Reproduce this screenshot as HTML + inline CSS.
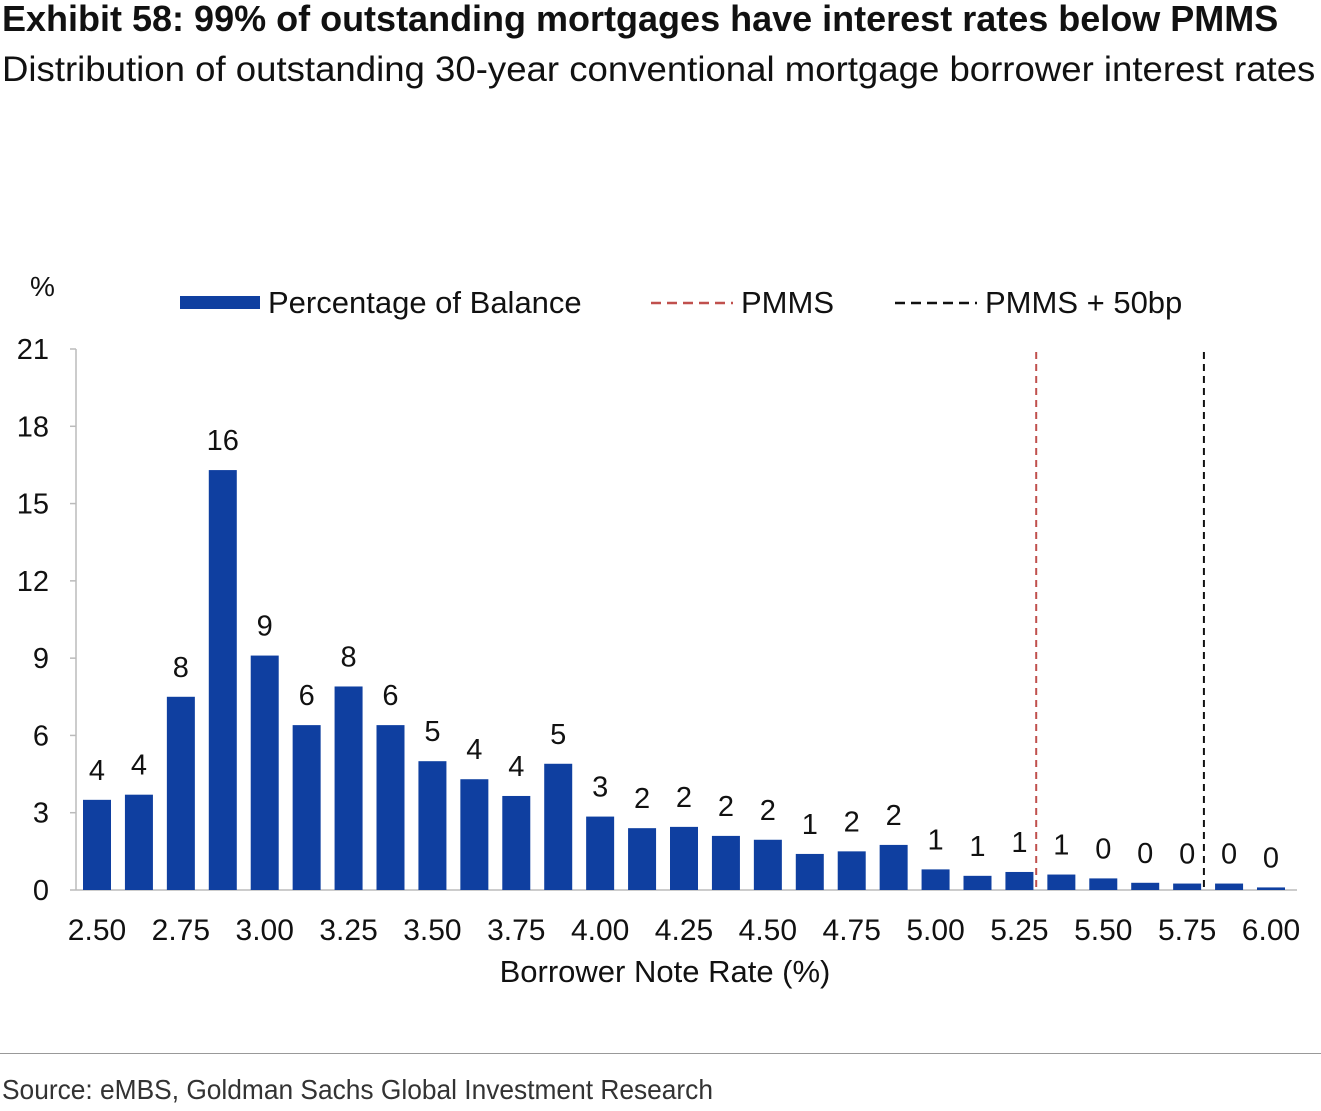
<!DOCTYPE html>
<html><head><meta charset="utf-8">
<style>
body{margin:0;width:1321px;height:1111px;background:#fff;overflow:hidden;font-family:"Liberation Sans",sans-serif;}
.t{position:absolute;white-space:nowrap;color:#111;transform-origin:left top;}
</style></head>
<body>
<div class="t" style="left:2px;top:-2px;font-weight:bold;font-size:36px;">Exhibit 58: 99% of outstanding mortgages have interest rates below PMMS</div>
<div class="t" style="left:2px;top:50px;font-size:35px;transform:scaleX(1.045);">Distribution of outstanding 30-year conventional mortgage borrower interest rates</div>
<svg id="chart" width="1321" height="1111" style="position:absolute;left:0;top:0" xmlns="http://www.w3.org/2000/svg" font-family="Liberation Sans, sans-serif"></svg>
<div style="position:absolute;left:0;top:1053px;width:1321px;height:1px;background:#999"></div>
<div class="t" style="left:2px;top:1074px;font-size:28px;color:#333;transform:scaleX(0.94);">Source: eMBS, Goldman Sachs Global Investment Research</div>
<script>
const rates=[2.5,2.625,2.75,2.875,3.0,3.125,3.25,3.375,3.5,3.625,3.75,3.875,4.0,4.125,4.25,4.375,4.5,4.625,4.75,4.875,5.0,5.125,5.25,5.375,5.5,5.625,5.75,5.875,6.0];
const balances=[3.5,3.7,7.5,16.3,9.1,6.4,7.9,6.4,5.0,4.3,3.65,4.9,2.85,2.4,2.45,2.1,1.95,1.4,1.5,1.75,0.8,0.55,0.7,0.6,0.45,0.28,0.25,0.25,0.1];
const yTicks=[0,3,6,9,12,15,18,21];
const xTickLabels=["2.50","2.75","3.00","3.25","3.50","3.75","4.00","4.25","4.50","4.75","5.00","5.25","5.50","5.75","6.00"];
const pmms=5.30;
const pmms50=5.80;
const svg=document.getElementById('chart');
const NS="http://www.w3.org/2000/svg";
const x0=97,x1=1271,y0=890,y1=349;
const X=v=>x0+(v-2.5)/(3.5)*(x1-x0);
const Y=v=>y0-v/21*(y0-y1);
function mk(tag,attrs,txt){const e=document.createElementNS(NS,tag);for(const k in attrs)e.setAttribute(k,attrs[k]);if(txt!==undefined)e.textContent=txt;svg.appendChild(e);return e;}
let e;
e=mk('line',{x1:76,y1:349,x2:76,y2:890,stroke:'#bbb','stroke-width':1.5});


e=mk('line',{x1:76,y1:890,x2:1297,y2:890,stroke:'#bbb','stroke-width':1.5});


yTicks.forEach(t=>{
 e=mk('text',{x:49,y:Y(t)+10,'font-size':29,'text-anchor':'end',fill:'#111'},String(t));
 
 
 e=mk('line',{x1:70,y1:Y(t),x2:76,y2:Y(t),stroke:'#bbb','stroke-width':1.5});
 
 
});
xTickLabels.forEach(l=>{
 e=mk('text',{x:X(parseFloat(l)),y:940,'font-size':30,'text-anchor':'middle',fill:'#111'},l);
 
 
});
rates.forEach((r,i)=>{
 const v=balances[i];
 e=mk('rect',{x:X(r)-14,y:Y(v),width:28,height:y0-Y(v),fill:'#0f3fa0'});
 
 
 e=mk('text',{x:X(r),y:Y(v)-20,'font-size':29,'text-anchor':'middle',fill:'#111'},String(Math.round(v)));
 
 
});
e=mk('line',{x1:X(pmms),y1:352,x2:X(pmms),y2:890,stroke:'#c0504d','stroke-width':2,'stroke-dasharray':'7,5'});


e=mk('line',{x1:X(pmms50),y1:352,x2:X(pmms50),y2:890,stroke:'#111','stroke-width':2,'stroke-dasharray':'7,5'});


e=mk('text',{x:30,y:296,'font-size':28,fill:'#111'},'%');


e=mk('text',{x:665,y:982,'font-size':31,'text-anchor':'middle',fill:'#111'},'Borrower Note Rate (%)');


e=mk('rect',{x:180,y:296,width:80,height:13,fill:'#0f3fa0'});


e=mk('text',{x:268,y:313,'font-size':31,fill:'#111'},'Percentage of Balance');


e=mk('line',{x1:651,y1:303,x2:733,y2:303,stroke:'#c0504d','stroke-width':2.5,'stroke-dasharray':'10,6'});


e=mk('text',{x:741,y:313,'font-size':31,fill:'#111'},'PMMS');


e=mk('line',{x1:895,y1:303,x2:977,y2:303,stroke:'#111','stroke-width':2.5,'stroke-dasharray':'10,6'});


e=mk('text',{x:985,y:313,'font-size':31,fill:'#111'},'PMMS + 50bp');


</script>
</body></html>
